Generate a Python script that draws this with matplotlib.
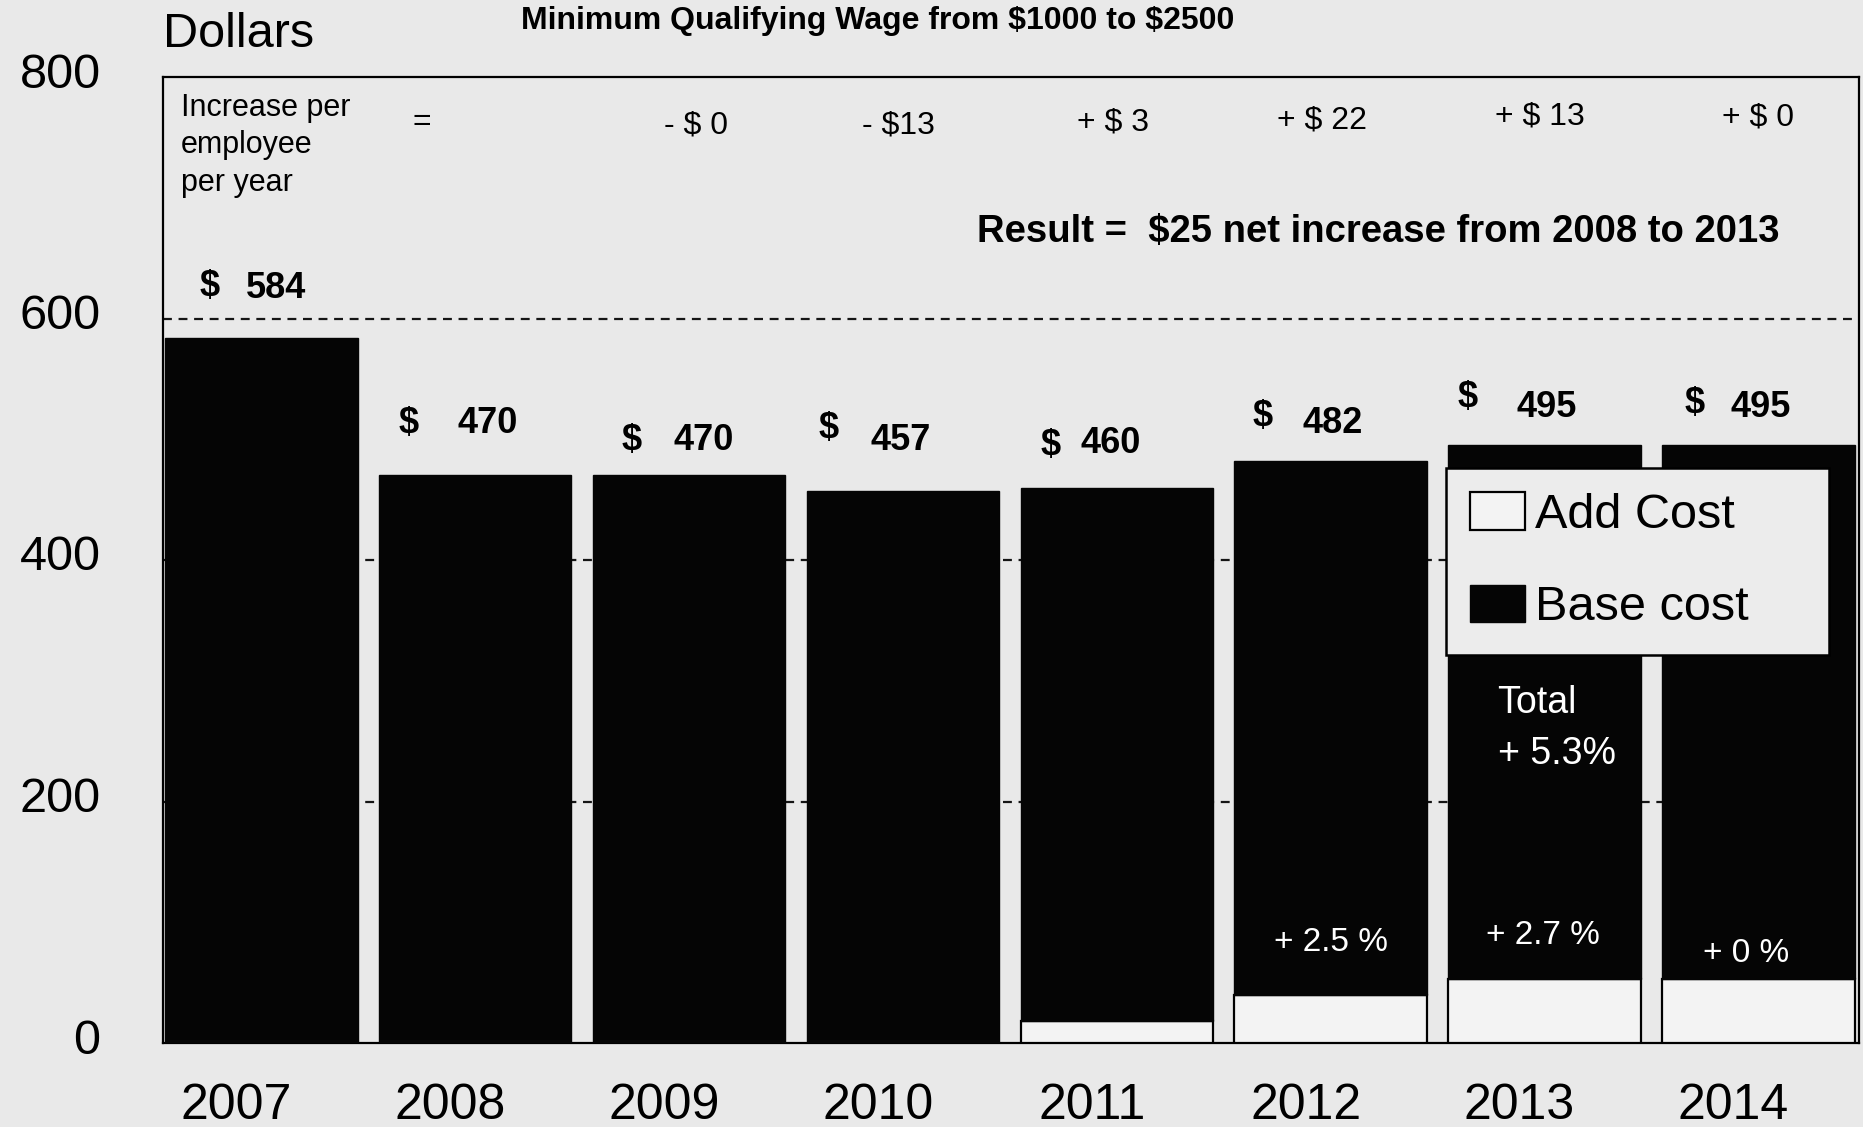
import numpy as np
import matplotlib
matplotlib.use("Agg")
import matplotlib.pyplot as plt
import matplotlib.transforms as mtransforms

plt.rcParams['font.family'] = ['Liberation Sans', 'DejaVu Sans']

# ---------------- data ----------------
years = ['2007', '2008', '2009', '2010', '2011', '2012', '2013', '2014']
totals = [584, 470, 470, 457, 460, 482, 495, 495]
add_cost = [0, 0, 0, 0, 18, 40, 53, 53]
base_cost = [t - a for t, a in zip(totals, add_cost)]
increase_labels = ['', '=', '- $ 0', '- $13', '+ $ 3', '+ $ 22', '+ $ 13', '+ $ 0']
pct_labels = ['', '', '', '', '', '+ 2.5 %', '+ 2.7 %', '+ 0 %']
title = 'Minimum Qualifying Wage from $1000 to $2500'
result_text = 'Result =  $25 net increase from 2008 to 2013'
row_label = ['Increase per', 'employee', 'per year']
total_note = ['Total', '+ 5.3%']
y_ticks = [0, 200, 400, 600, 800]

# ---------------- layout / style ----------------
BG = '#e9e9e9'
BAR_BLACK = '#050505'
ADD_WHITE = '#f3f3f3'

# per-bar label placement (offsets from bar centre, data units)
dollar_dx = [-0.24, -0.31, -0.27, -0.35, -0.31, -0.32, -0.36, -0.30]
dollar_y = [630, 516, 502, 512, 498, 522, 538, 533]
num_dx = [0.07, 0.06, 0.07, -0.01, -0.03, 0.01, 0.01, 0.01]
num_y = [628, 516, 502, 502, 500, 516, 530, 530]
inc_dx = [0, -0.25, 0.03, -0.02, -0.02, -0.04, -0.02, 0.0]
inc_y = [766, 766, 763, 763, 765, 767, 770, 769]
pct_dx = [0, 0, 0, 0, 0, 0.0, -0.01, -0.06]
pct_y = [0, 0, 0, 0, 0, 86, 92, 77]

W, H = 1863, 1127
fig = plt.figure(figsize=(W / 100, H / 100), dpi=100, facecolor=BG)
ax = fig.add_axes([163 / W, 84 / H, 1696 / W, 966 / H], facecolor=BG)

x = np.arange(len(years))
add_bars = ax.bar(x, add_cost, width=0.9, color=ADD_WHITE, edgecolor='black',
                  linewidth=1.6, zorder=3, label='Add Cost')
base_bars = ax.bar(x, base_cost, width=0.9, bottom=add_cost, color=BAR_BLACK,
                   edgecolor=BAR_BLACK, linewidth=1.0, zorder=3, label='Base cost')

ax.set_xlim(-0.46, 7.47)
ax.set_ylim(0, 800)

# dashed gridlines
for gy in [200, 400, 600]:
    ax.axhline(gy, color='#151515', linewidth=1.6, linestyle=(0, (4.0, 3.0)), zorder=1)

for s in ax.spines.values():
    s.set_linewidth(1.6)
    s.set_color('black')

# ticks
ax.set_yticks(y_ticks)
ax.set_yticklabels([str(v) for v in y_ticks])
ax.tick_params(axis='y', length=0, pad=45, labelsize=35)
ax.set_xticks(x)
ax.set_xticklabels(years)
ax.tick_params(axis='x', length=0, pad=29, labelsize=36)
xoff = mtransforms.ScaledTranslation(-0.25, 0, fig.dpi_scale_trans)
for lab in ax.get_xticklabels():
    lab.set_transform(lab.get_transform() + xoff)
yoff = mtransforms.ScaledTranslation(0, 0.07, fig.dpi_scale_trans)
for lab in ax.get_yticklabels():
    lab.set_transform(lab.get_transform() + yoff)

# value labels
for i, t in enumerate(totals):
    ax.text(i + dollar_dx[i], dollar_y[i], '$', ha='center', va='center_baseline',
            fontsize=26, fontweight='bold', zorder=5, parse_math=False)
    ax.text(i + num_dx[i], num_y[i], str(t), ha='center', va='center_baseline',
            fontsize=26, fontweight='bold', zorder=5)

# increase per employee row
for i, s in enumerate(increase_labels):
    if s:
        ax.text(i + inc_dx[i], inc_y[i], s, ha='center', va='center_baseline',
                fontsize=23, zorder=5, parse_math=False)

for k, line in enumerate(row_label):
    ax.text(-0.378, 768 - 31 * k, line, ha='left', va='baseline', fontsize=22, zorder=5)

ax.text(5.22, 675, result_text, ha='center', va='center_baseline', fontsize=27.5,
        fontweight='bold', zorder=5, parse_math=False)

# percent labels in bars
for i, s in enumerate(pct_labels):
    if s:
        ax.text(i + pct_dx[i], pct_y[i], s, ha='center', va='center_baseline',
                fontsize=24, color='white', zorder=5)

ax.text(5.78, 285, total_note[0], ha='left', va='center_baseline', fontsize=27,
        color='white', zorder=5)
ax.text(5.78, 243, total_note[1], ha='left', va='center_baseline', fontsize=27,
        color='white', zorder=5)

# legend
leg = ax.legend(handles=[add_bars, base_bars], labels=['Add Cost', 'Base cost'],
                loc='upper left', bbox_to_anchor=(0.7565, 0.0, 0.2258, 0.5952),
                mode='expand', borderaxespad=0, fontsize=35, frameon=True,
                fancybox=False, framealpha=1, facecolor='#ececec', edgecolor='black',
                handlelength=1.13, handleheight=0.8, handletextpad=0.2,
                borderpad=0.5, labelspacing=0.97)
leg.get_frame().set_linewidth(1.8)
leg.set_zorder(6)

# figure texts
fig.text(163 / W, 1 - 47 / H, 'Dollars', ha='left', va='baseline', fontsize=35)
fig.text(878 / W, 1 - 17 / H, title, ha='center', va='center_baseline', fontsize=23,
         fontweight='bold', parse_math=False)

fig.savefig('out.png', dpi=100, facecolor=BG)
